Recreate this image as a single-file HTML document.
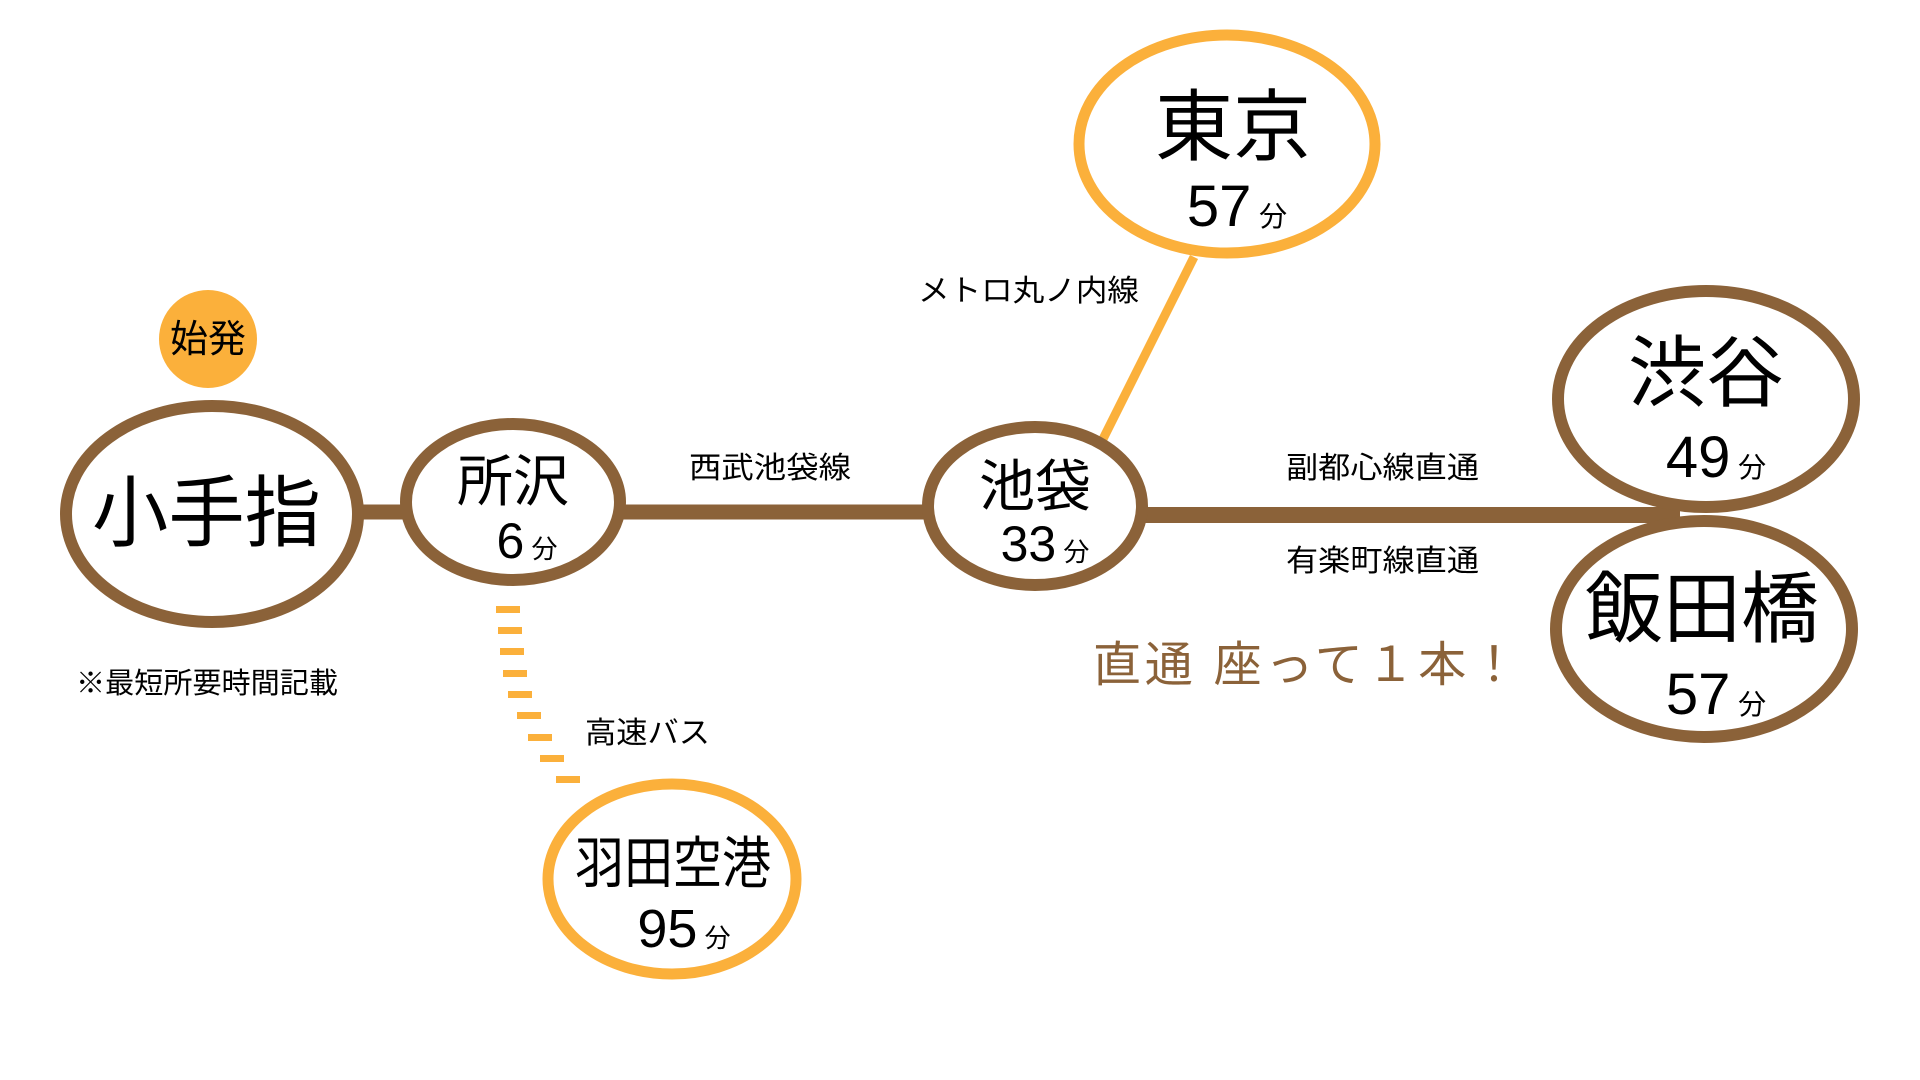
<!DOCTYPE html>
<html><head><meta charset="utf-8"><style>
html,body{margin:0;padding:0;background:#fff;}
svg{display:block;}
text{font-family:"Liberation Sans","Noto Sans CJK JP",sans-serif;fill:#000;}
.num{font-family:"Liberation Sans Narrow","Liberation Sans","Noto Sans CJK JP",sans-serif;}
</style></head><body>
<svg width="1920" height="1080" viewBox="0 0 1920 1080" xmlns="http://www.w3.org/2000/svg">
<line x1="350" y1="512" x2="410" y2="512" stroke="#8b6239" stroke-width="15"/>
<line x1="620" y1="512" x2="930" y2="512" stroke="#8b6239" stroke-width="15"/>
<line x1="1140" y1="515" x2="1680" y2="515" stroke="#8b6239" stroke-width="16"/>
<line x1="1194" y1="257" x2="1102" y2="441" stroke="#fbb03b" stroke-width="9"/>
<g fill="#fbb03b">
<rect x="496" y="606" width="24" height="7"/>
<rect x="498" y="627" width="24" height="7"/>
<rect x="500" y="648" width="24" height="7"/>
<rect x="503" y="670" width="24" height="7"/>
<rect x="508" y="691" width="24" height="7"/>
<rect x="517" y="712" width="24" height="7"/>
<rect x="528" y="734" width="24" height="7"/>
<rect x="540" y="755" width="24" height="7"/>
<rect x="556" y="776" width="24" height="7"/>
</g>
<circle cx="208" cy="339" r="49" fill="#fbb03b"/>
<text x="208" y="352" font-size="38" text-anchor="middle">始発</text>

<ellipse cx="212" cy="514" rx="146" ry="108" fill="#fff" stroke="#8b6239" stroke-width="12"/>
<text x="92" y="540" font-size="78" textLength="229" lengthAdjust="spacingAndGlyphs">小手指</text>

<ellipse cx="513" cy="502" rx="107" ry="78" fill="#fff" stroke="#8b6239" stroke-width="12"/>
<text x="513" y="501" font-size="56" text-anchor="middle">所沢</text>
<text x="527" y="558" text-anchor="middle" class="num"><tspan font-size="50">6</tspan><tspan font-size="26"> 分</tspan></text>

<ellipse cx="1035" cy="506" rx="107" ry="79" fill="#fff" stroke="#8b6239" stroke-width="12"/>
<text x="1035" y="506" font-size="56" text-anchor="middle">池袋</text>
<text x="1045" y="561" text-anchor="middle" class="num"><tspan font-size="50">33</tspan><tspan font-size="26"> 分</tspan></text>

<ellipse cx="1227" cy="144" rx="148" ry="109" fill="#fff" stroke="#fbb03b" stroke-width="11"/>
<text x="1233" y="154" font-size="78" text-anchor="middle">東京</text>
<text x="1237" y="226" text-anchor="middle" class="num"><tspan font-size="58">57</tspan><tspan font-size="28"> 分</tspan></text>

<ellipse cx="1706" cy="399" rx="148" ry="108" fill="#fff" stroke="#8b6239" stroke-width="12"/>
<text x="1706" y="400" font-size="78" text-anchor="middle">渋谷</text>
<text x="1716" y="477" text-anchor="middle" class="num"><tspan font-size="58">49</tspan><tspan font-size="28"> 分</tspan></text>

<ellipse cx="1704" cy="629" rx="148" ry="108" fill="#fff" stroke="#8b6239" stroke-width="12"/>
<text x="1702" y="636" font-size="78" text-anchor="middle">飯田橋</text>
<text x="1716" y="714" text-anchor="middle" class="num"><tspan font-size="58">57</tspan><tspan font-size="28"> 分</tspan></text>

<ellipse cx="672" cy="879" rx="124" ry="95" fill="#fff" stroke="#fbb03b" stroke-width="11"/>
<text x="575" y="883" font-size="56" textLength="196" lengthAdjust="spacingAndGlyphs">羽田空港</text>
<text x="684" y="947" text-anchor="middle" class="num"><tspan font-size="54">95</tspan><tspan font-size="26"> 分</tspan></text>

<text x="918" y="301" font-size="30" textLength="221" lengthAdjust="spacingAndGlyphs">メトロ丸ノ内線</text>
<text x="689" y="478" font-size="30" textLength="162" lengthAdjust="spacingAndGlyphs">西武池袋線</text>
<text x="1286" y="478" font-size="30" textLength="193" lengthAdjust="spacingAndGlyphs">副都心線直通</text>
<text x="1286" y="571" font-size="30" textLength="193" lengthAdjust="spacingAndGlyphs">有楽町線直通</text>
<text x="76" y="693" font-size="29" textLength="262" lengthAdjust="spacingAndGlyphs">※最短所要時間記載</text>
<text x="585" y="743" font-size="30" textLength="125" lengthAdjust="spacingAndGlyphs">高速バス</text>
<text x="1093" y="681" font-size="48" style="fill:#8b6239" textLength="425" lengthAdjust="spacing">直通 座って１本！</text>
</svg>
</body></html>
